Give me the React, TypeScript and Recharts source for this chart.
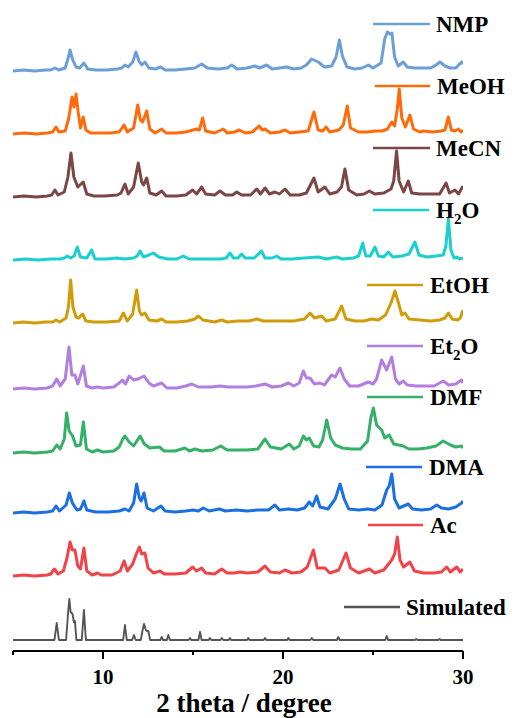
import React from 'react';
import { LineChart, Line, XAxis, YAxis } from 'recharts';

type Pt = [number, number];

// Intensities (height above each trace's own baseline)
const nmp: Pt[] = [[5,0],[5.6,1],[6.2,0],[6.8,1],[7.1,1],[7.33,3],[7.55,1],[7.9,3],[8.05,12],[8.17,21],[8.3,12],[8.5,4],[8.7,3],[8.94,8],[9.15,2],[9.6,1],[10.2,1],[10.8,2],[11.05,3],[11.22,6],[11.4,4],[11.65,9],[11.83,19],[12.0,10],[12.15,6],[12.33,9],[12.55,3],[12.9,2],[13.2,4],[13.45,1],[14.0,1],[14.6,2],[15.1,3],[15.48,7],[15.8,3],[16.4,2],[16.9,3],[17.15,6],[17.45,2],[18.0,3],[18.44,5],[18.7,3],[19.09,6],[19.4,2],[19.8,3],[20.2,4],[20.6,2],[21.0,3],[21.3,6],[21.59,12],[21.96,9],[22.3,4],[22.7,5],[22.95,14],[23.13,31],[23.3,15],[23.55,4],[24.0,2],[24.4,3],[24.74,6],[25.0,3],[25.45,8],[25.65,32],[25.8,39],[25.95,37],[26.05,38],[26.2,14],[26.4,5],[26.68,9],[26.9,4],[27.3,3],[27.7,3],[28.2,3],[28.5,6],[28.72,9],[29.0,5],[29.3,3],[29.6,3],[29.92,9],[30,7]];
const meoh: Pt[] = [[5,0],[5.6,1],[6.3,0],[6.9,1],[7.2,2],[7.39,7],[7.55,2],[7.9,3],[8.1,16],[8.28,37],[8.39,27],[8.5,40],[8.62,22],[8.75,6],[8.9,17],[9.05,4],[9.3,1],[9.8,1],[10.4,1],[10.9,2],[11.17,9],[11.35,2],[11.7,6],[11.93,29],[12.08,14],[12.2,12],[12.43,23],[12.6,5],[12.9,1],[13.26,5],[13.5,1],[14.1,1],[14.6,2],[15.2,5],[15.35,4],[15.54,16],[15.7,3],[16.2,1],[16.68,5],[16.9,1],[17.3,2],[17.57,4],[17.9,1],[18.3,2],[18.68,8],[18.85,4],[19.0,5],[19.3,1],[19.8,2],[20.11,4],[20.4,1],[20.9,2],[21.4,3],[21.72,22],[21.95,4],[22.2,3],[22.39,7],[22.6,2],[23.1,4],[23.35,9],[23.57,28],[23.75,6],[24.2,2],[24.7,2],[25.11,3],[25.5,3],[25.8,5],[26.04,12],[26.2,8],[26.35,25],[26.46,45],[26.6,16],[26.8,7],[27.05,19],[27.25,5],[27.6,2],[27.8,3],[28.3,2],[28.8,3],[29.0,4],[29.19,17],[29.35,4],[29.55,3],[29.74,5],[29.9,2],[30,4]];
const mecn: Pt[] = [[5,0],[5.6,1],[6.3,0],[6.9,1],[7.15,2],[7.33,7],[7.5,2],[7.85,5],[8.05,20],[8.22,44],[8.38,20],[8.6,10],[8.9,15],[9.1,3],[9.5,1],[10.1,1],[10.8,2],[11.0,4],[11.22,13],[11.4,3],[11.7,10],[11.96,34],[12.15,15],[12.25,12],[12.43,19],[12.6,4],[12.95,2],[13.26,6],[13.5,1],[14.1,1],[14.6,2],[14.98,7],[15.2,3],[15.48,10],[15.7,3],[16.2,2],[16.5,6],[16.8,2],[17.2,2],[17.43,5],[17.7,2],[18.2,2],[18.54,8],[18.75,3],[19.0,9],[19.25,3],[19.55,5],[19.8,3],[20.11,8],[20.4,2],[20.9,2],[21.3,4],[21.72,19],[21.95,5],[22.33,10],[22.6,3],[23.0,5],[23.25,10],[23.44,28],[23.65,7],[24.1,2],[24.5,3],[24.8,6],[25.1,3],[25.6,4],[26.0,8],[26.15,16],[26.31,46],[26.45,16],[26.7,5],[26.96,16],[27.15,4],[27.6,3],[28.2,3],[28.7,3],[29.06,14],[29.25,4],[29.55,7],[29.75,3],[30,11]];
const h2o: Pt[] = [[5,0],[5.7,1],[6.4,0],[7.1,1],[7.6,1],[7.85,2],[8.02,4],[8.2,2],[8.4,4],[8.57,13],[8.75,3],[9.1,2],[9.37,10],[9.55,1],[10.2,1],[10.76,2],[11.2,1],[11.7,2],[11.9,4],[12.06,9],[12.25,3],[12.55,5],[12.8,7],[13.1,3],[13.6,1],[14.1,1],[14.46,4],[14.8,1],[15.4,1],[16.0,1],[16.5,1],[16.85,2],[17.05,7],[17.25,2],[17.5,2],[17.7,6],[17.9,2],[18.4,2],[18.81,9],[19.0,2],[19.4,2],[19.65,4],[19.9,1],[20.5,1],[21.2,2],[21.96,3],[22.4,1],[22.98,3],[23.3,1],[23.9,2],[24.2,4],[24.43,17],[24.6,4],[24.85,4],[25.11,13],[25.3,4],[25.6,3],[25.85,8],[26.1,3],[26.6,4],[27.0,6],[27.33,18],[27.55,5],[28.0,3],[28.5,4],[28.9,5],[29.05,14],[29.19,41],[29.33,10],[29.5,2],[29.65,3],[29.8,1],[30,2]];
const etoh: Pt[] = [[5,0],[5.6,1],[6.2,0],[6.8,1],[7.2,1],[7.39,3],[7.6,1],[7.95,5],[8.08,16],[8.2,43],[8.33,16],[8.5,6],[8.65,5],[8.87,9],[9.05,2],[9.5,1],[10.2,1],[10.9,2],[11.13,10],[11.35,2],[11.65,9],[11.87,33],[12.02,12],[12.15,8],[12.33,10],[12.55,3],[13.0,2],[13.26,4],[13.5,1],[14.1,1],[14.7,2],[15.1,4],[15.3,7],[15.55,3],[16.2,1],[16.59,3],[16.9,1],[17.5,2],[18.1,2],[18.54,4],[18.9,2],[19.5,2],[20.1,2],[20.6,2],[21.2,4],[21.5,10],[21.75,5],[22.15,7],[22.4,2],[22.9,4],[23.26,17],[23.5,4],[24.0,2],[24.5,2],[24.93,4],[25.3,3],[25.7,8],[26.0,20],[26.22,32],[26.45,18],[26.6,8],[26.78,10],[27.0,4],[27.6,3],[28.2,2],[28.7,3],[29.0,5],[29.19,10],[29.4,4],[29.7,3],[29.85,5],[30,13]];
const et2o: Pt[] = [[5,0],[5.6,1],[6.2,0],[6.9,1],[7.2,3],[7.43,10],[7.62,3],[7.9,10],[8.11,42],[8.27,14],[8.44,14],[8.6,5],[8.91,23],[9.08,3],[9.4,1],[9.69,2],[10.0,1],[10.6,2],[10.9,6],[11.07,9],[11.25,5],[11.46,13],[11.7,9],[11.95,10],[12.28,13],[12.55,6],[12.8,3],[13.26,6],[13.55,1],[14.1,1],[14.6,3],[14.93,5],[15.3,2],[16.0,2],[16.5,3],[17.0,2],[17.5,2],[18.0,2],[18.5,3],[19.0,5],[19.4,2],[19.9,3],[20.3,6],[20.6,3],[20.9,6],[21.13,18],[21.3,11],[21.5,11],[21.75,5],[22.05,6],[22.3,4],[22.7,14],[22.9,12],[23.17,21],[23.4,10],[23.7,3],[24.2,3],[24.74,7],[25.0,5],[25.2,10],[25.48,29],[25.76,19],[26.04,32],[26.25,10],[26.45,5],[26.68,8],[26.9,4],[27.4,3],[27.9,3],[28.4,3],[28.9,8],[29.2,4],[29.6,5],[29.92,9],[30,6]];
const dmf: Pt[] = [[5,0],[5.6,1],[6.2,0],[6.9,1],[7.2,2],[7.43,8],[7.62,4],[7.85,14],[7.98,40],[8.12,22],[8.31,17],[8.5,7],[8.75,8],[8.91,31],[9.08,4],[9.4,1],[9.69,3],[10.0,1],[10.6,2],[10.9,6],[11.1,14],[11.22,17],[11.45,11],[11.7,7],[12.06,17],[12.3,9],[12.6,5],[13.13,6],[13.4,2],[14.0,2],[14.55,5],[14.8,2],[15.1,4],[15.5,2],[16.1,3],[16.54,7],[16.9,3],[17.5,3],[18.0,3],[18.6,4],[19.0,14],[19.3,6],[19.9,4],[20.35,9],[20.6,4],[20.9,7],[21.13,17],[21.3,13],[21.46,15],[21.7,7],[22.0,6],[22.2,13],[22.43,33],[22.65,15],[22.9,8],[23.3,5],[23.8,4],[24.3,4],[24.7,12],[24.88,35],[25.02,45],[25.2,28],[25.48,23],[25.65,15],[25.9,18],[26.15,9],[26.68,7],[27.0,4],[27.5,4],[28.0,5],[28.5,7],[28.9,12],[29.3,8],[29.6,6],[29.92,7],[30,5]];
const dma: Pt[] = [[5,0],[5.6,1],[6.2,0],[6.9,1],[7.2,2],[7.39,7],[7.58,2],[7.95,8],[8.13,20],[8.3,10],[8.55,3],[8.75,4],[8.94,12],[9.1,3],[9.6,1],[10.3,1],[10.9,2],[11.22,4],[11.45,2],[11.7,10],[11.87,29],[12.02,15],[12.12,12],[12.28,20],[12.45,5],[12.8,2],[13.22,7],[13.45,2],[14.0,1],[14.6,2],[15.0,3],[15.3,2],[15.57,5],[15.9,2],[16.46,4],[16.8,2],[17.4,3],[18.0,2],[18.6,3],[19.2,3],[19.55,8],[19.8,3],[20.3,4],[20.8,3],[21.2,5],[21.46,11],[21.65,7],[21.87,17],[22.05,6],[22.5,4],[22.9,14],[23.17,29],[23.4,14],[23.65,4],[24.2,3],[24.7,4],[25.1,3],[25.5,8],[25.76,23],[25.9,27],[26.04,39],[26.2,14],[26.45,5],[26.96,9],[27.2,4],[27.7,3],[28.2,4],[28.54,8],[28.8,5],[29.2,4],[29.6,6],[29.92,10],[30,12]];
const ac: Pt[] = [[5,0],[5.6,1],[6.2,0],[6.9,1],[7.1,2],[7.3,7],[7.5,2],[7.8,5],[8.0,18],[8.17,34],[8.3,26],[8.44,26],[8.6,10],[8.75,7],[8.94,28],[9.1,5],[9.4,1],[9.69,3],[9.9,1],[10.5,1],[10.95,5],[11.17,15],[11.35,5],[11.65,12],[11.85,22],[12.02,29],[12.15,22],[12.33,23],[12.5,8],[12.8,3],[13.17,5],[13.4,2],[14.0,2],[14.6,3],[14.98,9],[15.2,5],[15.48,8],[15.7,3],[16.2,2],[16.59,7],[16.9,3],[17.3,3],[17.61,4],[18.0,3],[18.6,4],[19.0,10],[19.3,4],[19.8,3],[20.11,6],[20.5,3],[21.0,4],[21.35,9],[21.69,26],[21.9,8],[22.33,8],[22.6,3],[23.1,6],[23.5,23],[23.75,8],[24.2,3],[24.8,7],[25.1,3],[25.6,6],[26.04,16],[26.2,22],[26.35,39],[26.5,16],[26.7,9],[27.05,14],[27.3,5],[27.8,3],[28.4,3],[28.8,4],[29.09,9],[29.3,4],[29.65,9],[29.85,4],[30,7]];
const simulated: Pt[] = [[5,0],[7.3,0],[7.43,17],[7.55,0],[7.95,0],[8.07,30],[8.13,41],[8.2,28],[8.31,26],[8.38,18],[8.44,19],[8.52,0],[8.82,0],[8.94,30],[9.05,0],[11.12,0],[11.22,15],[11.32,0],[11.62,0],[11.72,5],[11.82,0],[12.1,0],[12.2,10],[12.28,16],[12.38,10],[12.45,9],[12.52,9],[12.62,0],[13.18,0],[13.26,3],[13.34,0],[13.55,0],[13.63,5],[13.72,0],[14.75,0],[14.83,2],[14.9,0],[15.3,0],[15.39,8],[15.48,0],[15.87,0],[15.94,2],[16.02,0],[16.52,0],[16.6,2],[16.68,0],[16.98,0],[17.05,2],[17.12,0],[18.0,0],[18.07,2],[18.14,0],[18.93,0],[19.0,2],[19.07,0],[20.23,0],[20.3,2],[20.37,0],[21.52,0],[21.6,2],[21.68,0],[22.99,0],[23.07,3],[23.15,0],[25.68,0],[25.76,4],[25.84,0],[27.33,0],[27.4,1],[27.47,0],[28.63,0],[28.7,1],[28.77,0],[30,0]];

const seriesNames = ['NMP', 'MeOH', 'MeCN', 'H2O', 'EtOH', 'Et2O', 'DMF', 'DMA', 'Ac', 'Simulated'];
const seriesData: Pt[][] = [nmp, meoh, mecn, h2o, etoh, et2o, dmf, dma, ac, simulated];
const xTicks = [5, 10, 15, 20, 25, 30];
const xTickLabels = [10, 20, 30];
const xTitle = '2 theta / degree';

// Styling / layout (not data)
const colors = ['#6c9fd6', '#ff6a0a', '#7a4646', '#1ccfcf', '#d19b0a', '#b27ee0', '#35b067', '#1c6fe0', '#f0434a', '#555555'];
const widths = [3, 3, 3, 3, 3, 3, 3, 3, 3, 1.9];
const stackOffsets = [580, 517, 454, 391, 328, 262, 198, 138, 75, 11];
const legendPos = [
  { y: 16, x1: 365, x2: 422, tx: 428 },
  { y: 78, x1: 367, x2: 422, tx: 429 },
  { y: 140, x1: 365, x2: 422, tx: 428 },
  { y: 202, x1: 365, x2: 421, tx: 428 },
  { y: 277, x1: 359, x2: 415, tx: 422 },
  { y: 338, x1: 359, x2: 415, tx: 422 },
  { y: 389, x1: 359, x2: 415, tx: 422 },
  { y: 459, x1: 358, x2: 414, tx: 421 },
  { y: 517, x1: 360, x2: 415, tx: 422 },
  { y: 599, x1: 336, x2: 392, tx: 398 },
];

const FONT = '"Liberation Serif"';
const textStyle = (size: number): React.CSSProperties => ({
  fontFamily: FONT,
  fontWeight: 700,
  fontSize: size,
  fill: '#000',
});

const AxisTick = (props: any) => {
  const { x, y, payload } = props;
  const major = xTickLabels.includes(payload.value);
  return (
    <g>
      <line x1={x} x2={x} y1={y} y2={y + (major ? 8 : 4)} stroke="#000" strokeWidth={2} />
      {major && (
        <text x={x} y={y + 33} textAnchor="middle" style={textStyle(21)}>
          {payload.value}
        </text>
      )}
    </g>
  );
};

const renderName = (name: string) => {
  const m = name.match(/^([A-Za-z]+)(\d)([A-Za-z]*)$/);
  if (!m) return name;
  return (
    <>
      {m[1]}
      <tspan style={{ fontSize: 15 }} dy={6}>{m[2]}</tspan>
      <tspan dy={-6}>{m[3]}</tspan>
    </>
  );
};

export default function App() {
  return (
    <div style={{ position: 'relative', width: 500, height: 710, fontFamily: FONT }}>
      <LineChart width={500} height={710} margin={{ top: 0, right: 45, bottom: 0, left: 5 }}>
        <XAxis
          dataKey="x"
          type="number"
          domain={[5, 30]}
          allowDataOverflow
          ticks={xTicks}
          interval={0}
          tickSize={0}
          tickMargin={0}
          tickLine={false}
          axisLine={{ stroke: '#000', strokeWidth: 2 }}
          tick={<AxisTick />}
          height={67}
          label={(p: any) => {
            const vb = p.viewBox || {};
            return (
              <text x={vb.x + vb.width / 2 + 6} y={vb.y + 61} textAnchor="middle" style={textStyle(27)}>
                {xTitle}
              </text>
            );
          }}
        />
        <YAxis hide type="number" domain={[0, 643]} allowDataOverflow width={0} />
        {seriesData.map((pts, i) => (
          <Line
            key={seriesNames[i]}
            data={pts.map(([x, h]) => ({ x, y: h + stackOffsets[i] }))}
            dataKey="y"
            type="linear"
            stroke={colors[i]}
            strokeWidth={widths[i]}
            dot={false}
            activeDot={false}
            isAnimationActive={false}
            strokeLinejoin="round"
          />
        ))}
      </LineChart>
      <svg
        width={508}
        height={710}
        style={{ position: 'absolute', left: 0, top: 0, overflow: 'visible', pointerEvents: 'none' }}
      >
        {legendPos.map((p, i) => (
          <g key={seriesNames[i]}>
            <line x1={p.x1} x2={p.x2} y1={p.y} y2={p.y} stroke={colors[i]} strokeWidth={2.6} />
            <text x={p.tx} y={p.y + 8} style={textStyle(23)}>
              {renderName(seriesNames[i])}
            </text>
          </g>
        ))}
      </svg>
    </div>
  );
}
